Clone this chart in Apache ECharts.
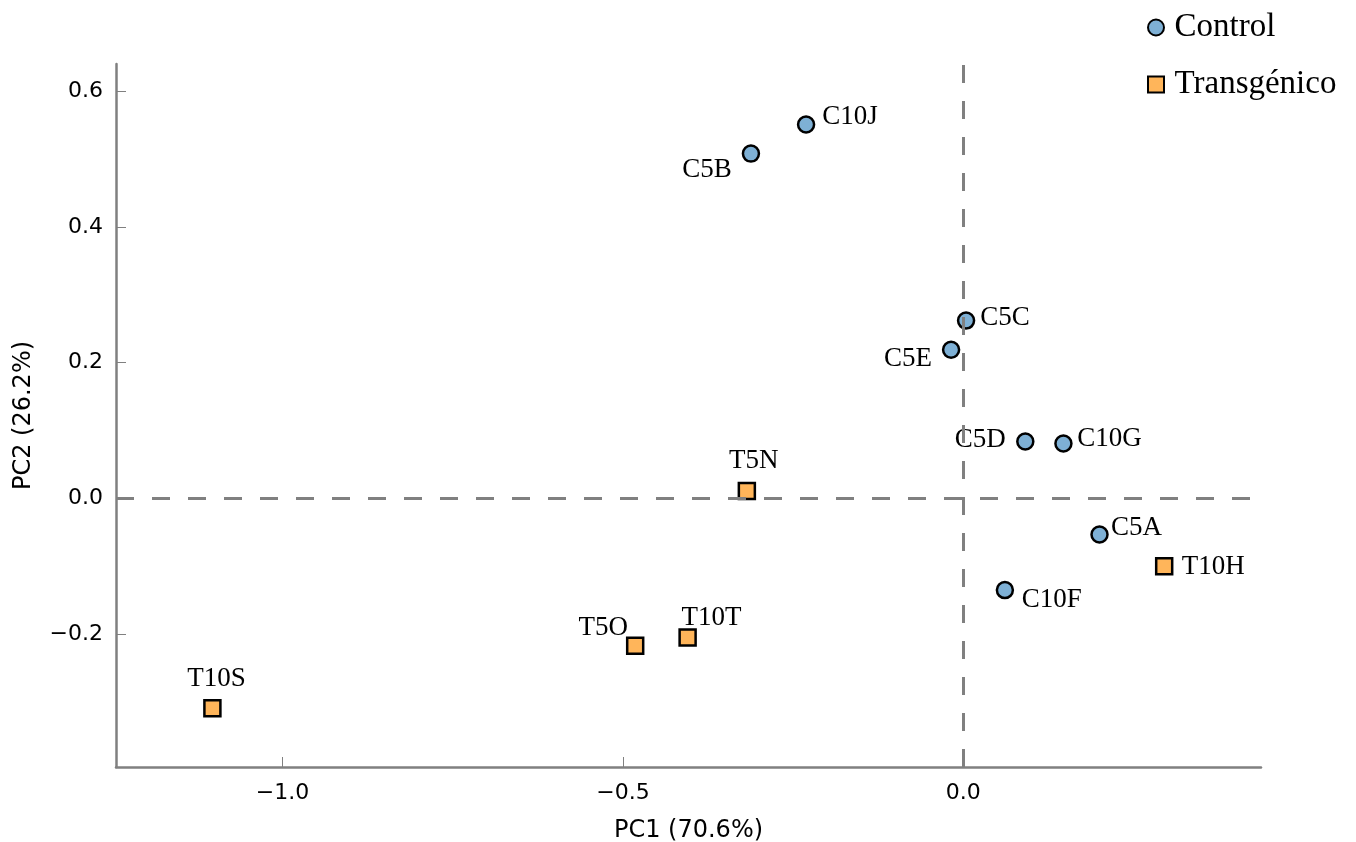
<!DOCTYPE html>
<html>
<head>
<meta charset="utf-8">
<title>PCA</title>
<script src="https://cdn.jsdelivr.net/npm/echarts@6/dist/echarts.min.js"></script>
<style>
  html, body { margin: 0; padding: 0; background: #ffffff; overflow: hidden; }
  #chart { width: 1356px; height: 842px; }
</style>
</head>
<body>
<div id="chart"></div>
<script>
// Sample scores on the first two principal components
const controlNames = ['C10J', 'C5B', 'C5C', 'C5E', 'C5D', 'C10G', 'C5A', 'C10F'];
const controlPC1 = [-0.231, -0.312, 0.004, -0.018, 0.091, 0.147, 0.200, 0.061];
const controlPC2 = [0.551, 0.508, 0.262, 0.219, 0.084, 0.081, -0.053, -0.135];

const transNames = ['T10H', 'T5N', 'T5O', 'T10T', 'T10S'];
const transPC1 = [0.295, -0.318, -0.482, -0.405, -1.103];
const transPC2 = [-0.100, 0.011, -0.217, -0.205, -0.309];

const xTicks = [-1.0, -0.5, 0.0];
const yTicks = [-0.2, 0.0, 0.2, 0.4, 0.6];

const seriesNames = ['Control', 'Transgénico'];
const axisNames = ['PC1 (70.6%)', 'PC2 (26.2%)'];

// Label placement around each marker (pixels, text centre relative to marker centre)
const labelOffsets = {
  C10J: [44, -10], C5B: [-44, 14], C5C: [39, -5], C5E: [-43, 7],
  C5D: [-45, -4], C10G: [46, -7], C5A: [37, -9], C10F: [47, 8],
  T10H: [49, -1], T5N: [7, -32], T5O: [-32, -20], T10T: [24, -22], T10S: [4, -31]
};
const labelBaselineShift = 2;

function buildPoints(names, xs, ys) {
  return names.map((n, i) => {
    const off = labelOffsets[n];
    return {
      name: n,
      value: [xs[i], ys[i]],
      label: { offset: [off[0], off[1] + labelBaselineShift] }
    };
  });
}

const fmt = v => v.toFixed(1).replace('-', '\u2212');
const axisGrey = '#808080';
const tickFont = { fontFamily: 'DejaVu Sans', fontSize: 22, color: '#000' };

const pointLabel = {
  show: true,
  position: 'inside',
  formatter: p => p.name,
  align: 'center',
  verticalAlign: 'middle',
  fontFamily: 'Liberation Serif',
  fontSize: 27,
  color: '#000'
};

const chart = echarts.init(document.getElementById('chart'), null, { renderer: 'canvas' });

chart.setOption({
  animation: false,
  backgroundColor: '#ffffff',
  grid: { left: 116, right: 95, top: 64, bottom: 75, outerBoundsMode: 'none' },
  legend: {
    data: [
      { name: seriesNames[0], icon: 'circle' },
      { name: seriesNames[1], icon: 'path://M0,0L10,0L10,10L0,10Z' }
    ],
    orient: 'vertical',
    left: 1147,
    top: 11,
    padding: 0,
    itemGap: 24,
    itemWidth: 27,
    itemHeight: 16,
    symbolKeepAspect: true,
    textStyle: { fontFamily: 'Liberation Serif', fontSize: 33, color: '#000', padding: [3, 0, 0, 0] }
  },
  xAxis: {
    type: 'value',
    min: -1.2446,
    max: 0.4372,
    name: axisNames[0],
    nameLocation: 'middle',
    nameGap: 52,
    nameTextStyle: { fontFamily: 'DejaVu Sans', fontSize: 24, color: '#000' },
    axisLine: { show: true, onZero: false, lineStyle: { color: axisGrey, width: 2.5 } },
    axisTick: { show: true, inside: true, length: 10, customValues: xTicks, lineStyle: { color: axisGrey, width: 1 } },
    axisLabel: { customValues: xTicks, formatter: fmt, margin: 15, ...tickFont },
    splitLine: { show: false }
  },
  yAxis: {
    type: 'value',
    min: -0.3956,
    max: 0.640,
    name: axisNames[1],
    nameLocation: 'middle',
    nameGap: 80,
    nameTextStyle: { fontFamily: 'DejaVu Sans', fontSize: 24, color: '#000' },
    axisLine: { show: true, onZero: false, lineStyle: { color: axisGrey, width: 2.5 } },
    axisTick: { show: true, inside: true, length: 10, customValues: yTicks, lineStyle: { color: axisGrey, width: 1 } },
    axisLabel: { customValues: yTicks, formatter: fmt, margin: 13, ...tickFont },
    splitLine: { show: false }
  },
  series: [
    {
      // zero reference lines
      type: 'scatter',
      data: [],
      z: 1,
      silent: true,
      markLine: {
        silent: true,
        symbol: ['none', 'none'],
        label: { show: false },
        emphasis: { disabled: true },
        lineStyle: { color: axisGrey, width: 3, type: [18, 18], opacity: 1 },
        data: [{ xAxis: 0 }, { yAxis: 0 }]
      }
    },
    {
      name: seriesNames[0],
      type: 'scatter',
      z: 3,
      symbol: 'circle',
      symbolSize: 16,
      itemStyle: { color: '#7eb0d5', borderColor: '#000', borderWidth: 2.5, opacity: 1 },
      emphasis: { disabled: true },
      label: pointLabel,
      data: buildPoints(controlNames, controlPC1, controlPC2)
    },
    {
      name: seriesNames[1],
      type: 'scatter',
      z: 3,
      symbol: 'rect',
      symbolSize: 16,
      itemStyle: { color: '#ffb55a', borderColor: '#000', borderWidth: 2.5, opacity: 1 },
      emphasis: { disabled: true },
      label: pointLabel,
      data: buildPoints(transNames, transPC1, transPC2)
    }
  ]
});
</script>
</body>
</html>
